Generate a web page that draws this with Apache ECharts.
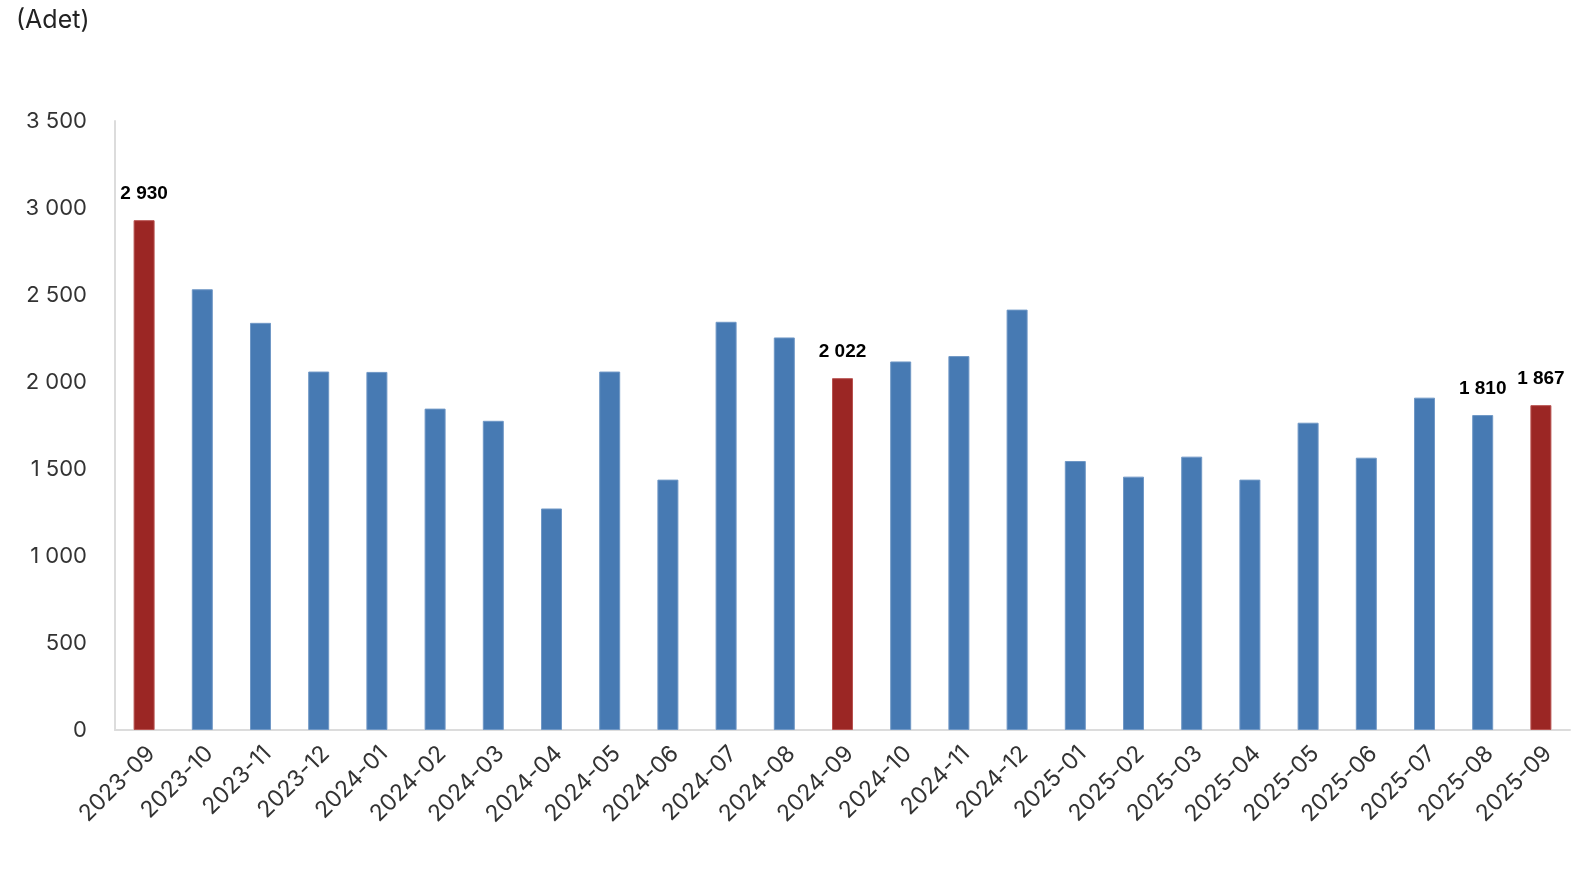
<!DOCTYPE html>
<html>
<head>
<meta charset="utf-8">
<title>Adet</title>
<script src="https://cdn.jsdelivr.net/npm/echarts@6/dist/echarts.min.js"></script>
<style>
  html, body { margin: 0; padding: 0; background: #fff; }
  #chart { width: 1594px; height: 872px; }
</style>
</head>
<body>
<div id="chart"></div>
<script>
// aylar
const months = [
  '2023-09', '2023-10', '2023-11', '2023-12', '2024-01', '2024-02', '2024-03',
  '2024-04', '2024-05', '2024-06', '2024-07', '2024-08', '2024-09', '2024-10',
  '2024-11', '2024-12', '2025-01', '2025-02', '2025-03', '2025-04', '2025-05',
  '2025-06', '2025-07', '2025-08', '2025-09'
];
// adet değerleri
const counts = [
  2930, 2533, 2340, 2060, 2058, 1847, 1777,
  1273, 2060, 1439, 2346, 2256, 2022, 2118,
  2149, 2416, 1546, 1456, 1571, 1439, 1766,
  1565, 1910, 1810, 1867
];
// kırmızı gösterilen aylar (Eylül)
const highlightIdx = [0, 12, 24];
// etiket gösterilen çubuklar
const labelIdx = [0, 12, 23, 24];

const blue = '#477ab3';
const red = '#9b2624';

function fmt(v) {
  return String(v).replace(/\B(?=(\d{3})+(?!\d))/g, ' ');
}

const barData = counts.map((v, i) => {
  const hi = highlightIdx.includes(i);
  return {
    value: v,
    itemStyle: {
      color: hi ? red : blue,
      borderColor: hi ? '#b85250' : '#7098c6',
      borderWidth: 1
    },
    label: { show: labelIdx.includes(i) }
  };
});

const chart = echarts.init(document.getElementById('chart'));

chart.setOption({
  animation: false,
  graphic: [{
    type: 'text',
    left: 16,
    top: 8,
    style: {
      text: '(Adet)',
      font: '25px Inter',
      fill: '#222'
    }
  }],
  grid: {
    left: 115,
    right: 24,
    top: 121,
    bottom: 142
  },
  xAxis: {
    type: 'category',
    data: months,
    axisLine: { show: true, lineStyle: { color: '#dcdcdc', width: 2 } },
    axisTick: { show: false },
    axisLabel: {
      rotate: 45,
      interval: 0,
      margin: 27,
      padding: [0, -10, 0, 0],
      color: '#333',
      fontFamily: 'Inter',
      fontSize: 23
    }
  },
  yAxis: {
    type: 'value',
    min: 0,
    max: 3500,
    interval: 500,
    axisLine: { show: true, lineStyle: { color: '#dcdcdc', width: 2 } },
    axisTick: { show: false },
    splitLine: { show: false },
    axisLabel: {
      margin: 28,
      color: '#333',
      fontFamily: 'Inter',
      fontSize: 22,
      formatter: v => fmt(v)
    }
  },
  series: [{
    type: 'bar',
    data: barData,
    barWidth: 21,
    label: {
      show: false,
      position: 'top',
      distance: 17,
      color: '#000',
      fontFamily: 'Liberation Sans',
      fontWeight: 'bold',
      fontSize: 19,
      formatter: p => fmt(p.value)
    }
  }]
});
</script>
</body>
</html>
